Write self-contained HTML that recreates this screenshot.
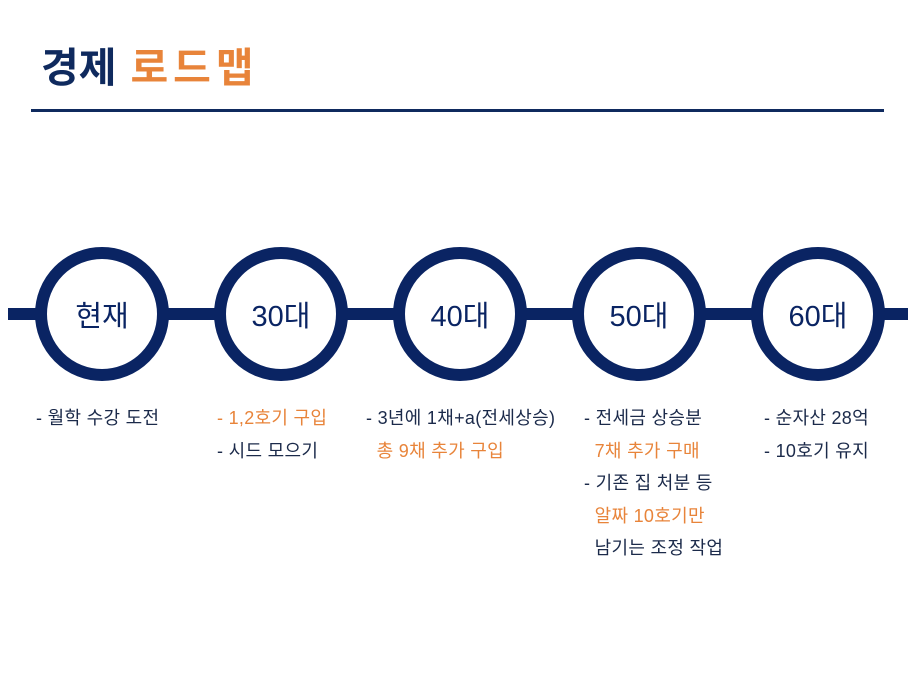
<!DOCTYPE html>
<html><head><meta charset="utf-8"><style>
body{margin:0;width:912px;height:684px;background:#fff;position:relative;overflow:hidden;font-family:"Liberation Sans","Noto Sans CJK KR",sans-serif}
.t{position:absolute;left:41px;top:40px;font-size:41px;font-weight:bold;color:#0f2a5e;line-height:56px}
.t span{color:#e8843a;margin-left:14px;letter-spacing:5px}
.rule{position:absolute;left:31px;top:109px;width:853px;height:3px;background:#0f2a5e}
.line{position:absolute;left:8px;top:308px;width:900px;height:12px;background:#0a2463}
.c{position:absolute;top:247px;width:110px;height:110px;border:12px solid #0a2463;border-radius:50%;background:#fff;display:flex;align-items:center;justify-content:center;font-size:29px;color:#0a2463}
.tx{position:absolute;font-size:18px;line-height:32.5px;color:#1b2a4a;white-space:pre;letter-spacing:0.3px}
.o{color:#e8843a}
</style></head><body>
<div class="t">경제<span>로드맵</span></div>
<div class="rule"></div>
<div class="line"></div>
<div class="c" style="left:35px">현재</div>
<div class="c" style="left:214px">30대</div>
<div class="c" style="left:393px">40대</div>
<div class="c" style="left:572px">50대</div>
<div class="c" style="left:751px">60대</div>
<div class="tx" style="left:36px;top:402px">- 월학 수강 도전</div>
<div class="tx" style="left:217px;top:402px"><span class="o">- 1,2호기 구입</span>
- 시드 모으기</div>
<div class="tx" style="left:366px;top:402px">- 3년에 1채+a(전세상승)
<span class="o">  총 9채 추가 구입</span></div>
<div class="tx" style="left:584px;top:402px">- 전세금 상승분
<span class="o">  7채 추가 구매</span>
- 기존 집 처분 등
<span class="o">  알짜 10호기만</span>
  남기는 조정 작업</div>
<div class="tx" style="left:764px;top:402px">- 순자산 28억
- 10호기 유지</div>
</body></html>
